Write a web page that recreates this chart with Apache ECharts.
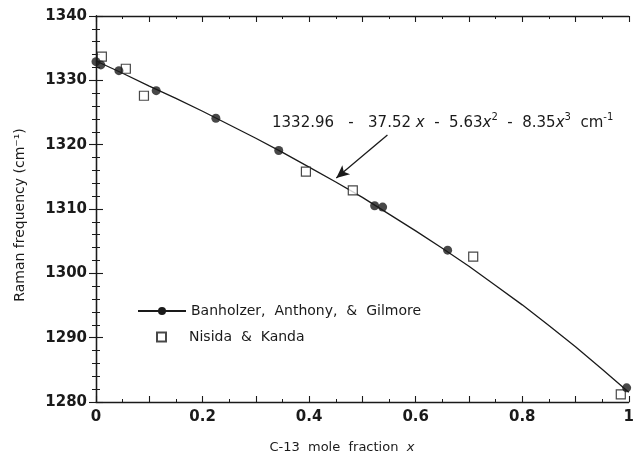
<!DOCTYPE html>
<html>
<head>
<meta charset="utf-8">
<script src="https://cdn.jsdelivr.net/npm/echarts@6/dist/echarts.min.js"></script>
<style>html,body{margin:0;padding:0;background:#fff;}#c{width:637px;height:461px;}</style>
</head>
<body>
<div id="c"></div>
<script>
// Fitted curve
var curveX = [0, 0.05, 0.1, 0.15, 0.2, 0.25, 0.3, 0.35, 0.4, 0.45, 0.5, 0.55, 0.6, 0.65, 0.7, 0.75, 0.8, 0.85, 0.9, 0.95, 1.0];
var curveY = [1333.0, 1331.1, 1329.1, 1327.2, 1325.2, 1323.1, 1321.0, 1318.8, 1316.5, 1314.2, 1311.8, 1309.2, 1306.6, 1303.9, 1301.1, 1298.1, 1295.1, 1291.9, 1288.6, 1285.1, 1281.5];
// Banholzer, Anthony, & Gilmore (filled circles)
var banX = [0, 0.009, 0.043, 0.113, 0.225, 0.343, 0.523, 0.538, 0.660, 0.996];
var banY = [1332.9, 1332.4, 1331.5, 1328.4, 1324.1, 1319.1, 1310.5, 1310.3, 1303.6, 1282.2];
// Nisida & Kanda (open squares)
var nisX = [0.011, 0.056, 0.090, 0.394, 0.482, 0.708, 0.985];
var nisY = [1333.7, 1331.8, 1327.6, 1315.8, 1312.9, 1302.6, 1281.2];
// Arrow annotation endpoints (data coords)
var arrowFrom = [0.547, 1321.5];
var arrowTo = [0.451, 1314.8];

var INK = '#1a1a1a';
var FONT = '"DejaVu Sans", "Liberation Sans", Arial, sans-serif';
function zip(a, b) { return a.map(function (v, i) { return [v, b[i]]; }); }

var xBase = {
  type: 'value', min: 0, max: 1, interval: 0.1,
  axisLine: { show: true, lineStyle: { color: INK, width: 1.3 } },
  axisTick: { show: true, inside: true, length: 6, lineStyle: { color: INK, width: 1.1 } },
  minorTick: { show: true, splitNumber: 2, length: 3, lineStyle: { color: INK, width: 1 } },
  splitLine: { show: false }
};
var yBase = {
  type: 'value', min: 1280, max: 1340, interval: 10,
  axisLine: { show: true, lineStyle: { color: INK, width: 1.3 } },
  axisTick: { show: true, inside: true, length: 7, lineStyle: { color: INK, width: 1.1 } },
  minorTick: { show: true, splitNumber: 5, length: 4, lineStyle: { color: INK, width: 1 } },
  splitLine: { show: false }
};

var chart = echarts.init(document.getElementById('c'));
chart.setOption({
  backgroundColor: '#ffffff',
  animation: false,
  grid: { left: 96, right: 4, top: 16, bottom: 59 },
  xAxis: [
    Object.assign({}, xBase, {
      position: 'bottom',
      name: '{n|C-13  mole  fraction  }{i|x}',
      nameLocation: 'middle', nameGap: 39,
      nameTextStyle: {
        padding: [0, 41, 0, 0],
        rich: {
          n: { fontFamily: FONT, fontSize: 13, color: INK },
          i: { fontFamily: FONT, fontSize: 13, fontStyle: 'italic', color: INK }
        }
      },
      axisLabel: {
        margin: 8, fontFamily: FONT, fontSize: 15, fontWeight: 'bold', color: INK,
        formatter: function (v) {
          var t = Math.round(v * 10);
          return t % 2 === 0 ? String(t / 10) : '';
        }
      }
    }),
    Object.assign({}, xBase, { position: 'top', axisLabel: { show: false } })
  ],
  yAxis: [
    Object.assign({}, yBase, {
      position: 'left',
      name: 'Raman frequency (cm\u207B\u00B9)',
      nameLocation: 'middle', nameGap: 69, nameRotate: 90,
      nameTextStyle: { fontFamily: FONT, fontSize: 14, color: INK, padding: [0, 12, 0, 0] },
      axisLabel: {
        margin: 9, fontFamily: FONT, fontSize: 15, fontWeight: 'bold', color: INK,
        formatter: function (v) { return String(v); }
      }
    }),
    Object.assign({}, yBase, { position: 'right', axisLabel: { show: false } })
  ],
  legend: [
    {
      data: ['Banholzer,  Anthony,  &  Gilmore'],
      left: 137, top: 304, orient: 'vertical', padding: 0,
      itemWidth: 48, itemHeight: 10,
      textStyle: { fontFamily: FONT, fontSize: 14, color: INK }
    },
    {
      data: ['Nisida  &  Kanda'],
      left: 156, top: 330, orient: 'vertical', padding: 0,
      itemWidth: 9, itemHeight: 9,
      textStyle: { fontFamily: FONT, fontSize: 14, color: INK, padding: [0, 0, 0, 18] }
    }
  ],
  graphic: [
    {
      type: 'text', left: 272, top: 112,
      style: {
        text: '{n|1332.96   -   37.52 }{i|x}{n|  -  5.63}{i|x}{s|2}{n|  -  8.35}{i|x}{s|3}{n|  cm}{s|-1}',
        rich: {
          n: { fontFamily: FONT, fontSize: 15, fill: INK, verticalAlign: 'bottom', lineHeight: 19 },
          i: { fontFamily: FONT, fontSize: 15, fontStyle: 'italic', fill: INK, verticalAlign: 'bottom', lineHeight: 19 },
          s: { fontFamily: FONT, fontSize: 10, fill: INK, verticalAlign: 'top', lineHeight: 19 }
        }
      }
    }
  ],
  series: [
    {
      name: 'Banholzer,  Anthony,  &  Gilmore',
      type: 'line', xAxisIndex: 0, yAxisIndex: 0,
      data: zip(curveX, curveY), smooth: false, showSymbol: false,
      symbol: 'circle', symbolSize: 8,
      itemStyle: { color: INK },
      lineStyle: { color: INK, width: 1.3 },
      z: 2,
      markLine: {
        silent: true, symbol: ['none', 'arrow'], symbolSize: [9, 13],
        label: { show: false },
        lineStyle: { color: INK, width: 1.3, type: 'solid' },
        data: [[{ coord: arrowFrom }, { coord: arrowTo }]]
      }
    },
    {
      name: 'points',
      type: 'scatter', xAxisIndex: 0, yAxisIndex: 0,
      data: zip(banX, banY), symbol: 'circle', symbolSize: 9,
      itemStyle: { color: INK }, z: 4
    },
    {
      name: 'Nisida  &  Kanda',
      type: 'scatter', xAxisIndex: 0, yAxisIndex: 0,
      data: zip(nisX, nisY), symbol: 'rect', symbolSize: 9,
      itemStyle: { color: '#ffffff', borderColor: INK, borderWidth: 1.2 }, z: 3
    }
  ]
});
</script>
</body>
</html>
